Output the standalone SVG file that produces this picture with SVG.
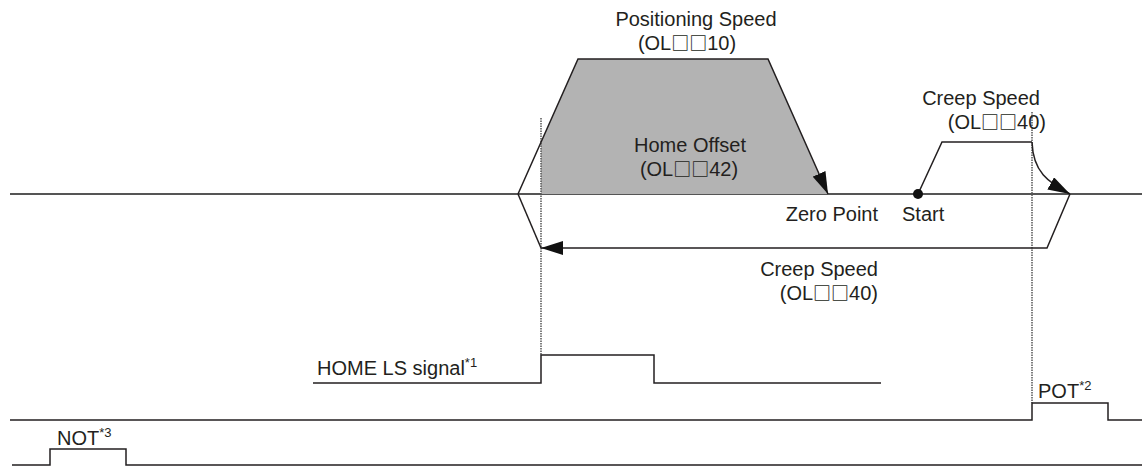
<svg xmlns="http://www.w3.org/2000/svg" width="1142" height="466" viewBox="0 0 1142 466">
<defs>
<style>
.t{font-family:"Liberation Sans","DejaVu Sans",Arial,sans-serif;font-size:20px;fill:#231f20}
.sq{font-family:"Noto Sans CJK JP","DejaVu Sans",sans-serif;font-size:18px;font-weight:bold}
.sup{font-size:13px}
.ln{fill:none;stroke:#231f20;stroke-width:1.5}
.ax{fill:none;stroke:#555;stroke-width:2}
.dot{fill:none;stroke:#555;stroke-width:1.5;stroke-dasharray:1.5 1}
</style>
<marker id="ah" viewBox="0 0 22 14" refX="22" refY="7" markerWidth="22" markerHeight="14" markerUnits="userSpaceOnUse" orient="auto">
<path d="M0,0 L22,7 L0,14 Z" fill="#111"/>
</marker>
</defs>
<rect width="1142" height="466" fill="#fff"/>
<g id="axis">
<line class="ax" x1="10" y1="194" x2="1142" y2="194"/>
</g>
<g id="home-offset-area">
<polygon points="541,142 578,59 768,59 828,194 541,194" fill="#b3b3b3"/>
</g>
<g id="guides">
<line class="dot" x1="541" y1="118" x2="541" y2="355"/>
<line class="dot" x1="1032" y1="112" x2="1032" y2="403"/>
</g>
<g id="connectors">
<path class="ln" d="M518,194 L578,59 L768,59 L828,194" marker-end="url(#ah)"/>
<path class="ln" d="M918,194 L942,142 L1032,142"/>
<path class="ln" d="M1032,142 C1033,172 1048,182 1070,194" marker-end="url(#ah)"/>
<path class="ln" d="M1070,194 L1047,248 L541,248" marker-end="url(#ah)"/>
<path class="ln" d="M541,248 L518,194"/>
</g>
<g id="start-point">
<circle cx="918" cy="194" r="5" fill="#111"/>
<text class="t" x="902" y="221">Start</text>
</g>
<g id="zero-point">
<text class="t" x="878" y="221" text-anchor="end">Zero Point</text>
</g>
<g id="positioning-speed">
<text class="t" x="696" y="26" text-anchor="middle">Positioning Speed</text>
<text class="t" x="687" y="50" text-anchor="middle">(OL<tspan class="sq">□□</tspan>10)</text>
</g>
<g id="home-offset">
<text class="t" x="690" y="152" text-anchor="middle">Home Offset</text>
<text class="t" x="689" y="176" text-anchor="middle">(OL<tspan class="sq">□□</tspan>42)</text>
</g>
<g id="creep-speed-upper">
<text class="t" x="1040" y="105" text-anchor="end">Creep Speed</text>
<text class="t" x="1046" y="129" text-anchor="end">(OL<tspan class="sq">□□</tspan>40)</text>
</g>
<g id="creep-speed-lower">
<text class="t" x="878" y="276" text-anchor="end">Creep Speed</text>
<text class="t" x="878" y="300" text-anchor="end">(OL<tspan class="sq">□□</tspan>40)</text>
</g>
<g id="home-ls">
<polyline class="ln" points="313,383 541,383 541,355 654,355 654,383 881,383"/>
<text class="t" x="317" y="375">HOME LS signal<tspan class="sup" dy="-8">*1</tspan></text>
</g>
<g id="pot">
<polyline class="ln" points="10,420 1032,420 1032,403 1108,403 1108,420 1142,420"/>
<text class="t" x="1038" y="398">POT<tspan class="sup" dy="-8">*2</tspan></text>
</g>
<g id="not">
<polyline class="ln" points="12,465 50,465 50,449 126,449 126,465 1142,465"/>
<text class="t" x="57" y="445">NOT<tspan class="sup" dy="-8">*3</tspan></text>
</g>
</svg>
